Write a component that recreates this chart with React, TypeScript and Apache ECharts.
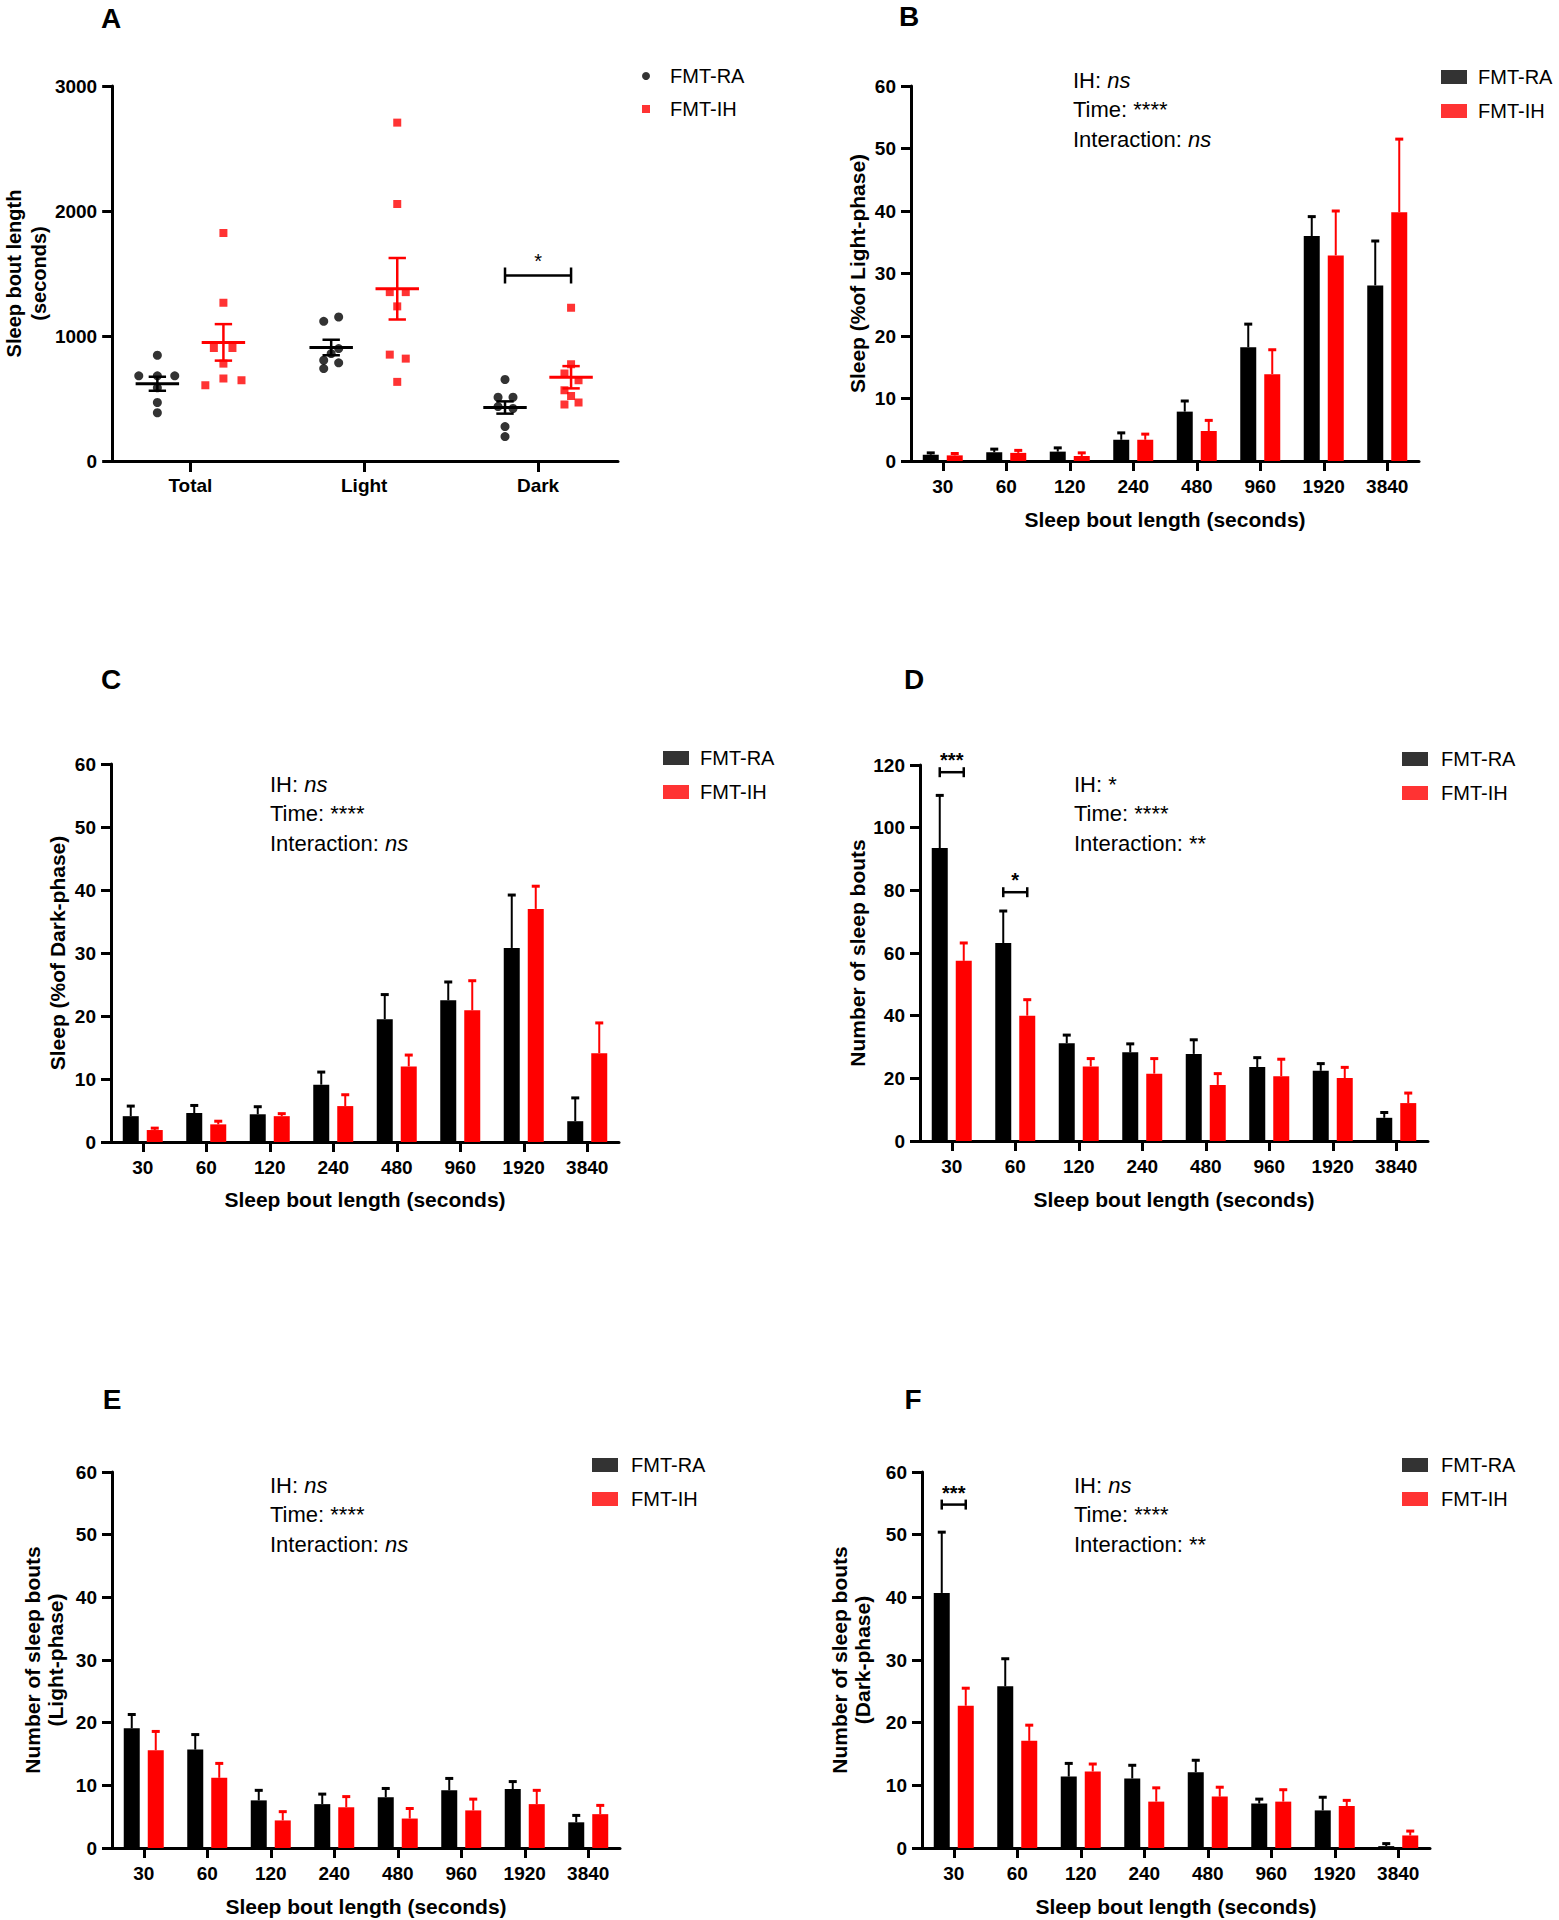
import { useEffect, useRef } from "react";
import * as echarts from "echarts";

// ------------------------- DATA -------------------------
const groupNames = ["FMT-RA", "FMT-IH"];
const phaseLabels = ["Total", "Light", "Dark"];
const boutLengths = ["30", "60", "120", "240", "480", "960", "1920", "3840"];

// Panel A: individual animals (sleep bout length, seconds) and horizontal jitter (category units)
const aTotalRA = [846, 681, 681, 681, 585, 468, 386];
const aTotalRAJitter = [0, -0.107, 0, 0.1, 0, 0, 0];
const aLightRA = [1152, 1117, 899, 859, 806, 785, 739];
const aLightRAJitter = [0.043, -0.043, 0.043, 0, -0.043, 0.043, -0.043];
const aDarkRA = [652, 510, 510, 435, 420, 275, 195];
const aDarkRAJitter = [0, -0.04, 0.046, -0.04, 0.046, 0, 0];
const aTotalIH = [1824, 1266, 904, 904, 779, 660, 646, 606];
const aTotalIHJitter = [0, 0, -0.055, 0.052, 0, 0, 0.104, -0.104];
const aLightIH = [2707, 2056, 1351, 1351, 1237, 851, 819, 633];
const aLightIHJitter = [0, 0, -0.043, 0.049, 0, -0.043, 0.049, 0];
const aDarkIH = [1226, 774, 700, 646, 566, 520, 468, 452];
const aDarkIHJitter = [0, 0, -0.038, 0.043, -0.038, 0, 0.043, -0.038];
const aMeanRA = [618, 908, 428];
const aSemRA = [56, 62, 49];
const aMeanIH = [949, 1378, 670];
const aSemIH = [146, 246, 89];
const aBracketCats = [2];
const aBracketY = [1484];
const aBracketLabels = ["*"];

// Panel B: sleep (% of light phase)
const bMeanRA = [1.0, 1.4, 1.5, 3.4, 7.9, 18.2, 36.0, 28.1];
const bSemRA = [0.3, 0.5, 0.6, 1.1, 1.7, 3.7, 3.1, 7.1];
const bMeanIH = [0.9, 1.3, 0.8, 3.4, 4.8, 13.9, 32.9, 39.8];
const bSemIH = [0.3, 0.4, 0.5, 0.9, 1.7, 3.9, 7.1, 11.7];

// Panel C: sleep (% of dark phase)
const cMeanRA = [4.1, 4.6, 4.4, 9.1, 19.5, 22.5, 30.8, 3.3];
const cSemRA = [1.6, 1.2, 1.2, 2.0, 3.9, 2.9, 8.4, 3.7];
const cMeanIH = [1.9, 2.8, 4.1, 5.7, 12.0, 20.9, 37.0, 14.1];
const cSemIH = [0.3, 0.5, 0.4, 1.8, 1.8, 4.7, 3.6, 4.8];

// Panel D: number of sleep bouts
const dMeanRA = [93.5, 63.2, 31.2, 28.3, 27.8, 23.6, 22.4, 7.4];
const dSemRA = [16.8, 10.2, 2.6, 2.7, 4.5, 3.0, 2.3, 1.7];
const dMeanIH = [57.5, 40.0, 23.8, 21.5, 17.9, 20.7, 20.1, 12.1];
const dSemIH = [5.7, 5.1, 2.5, 4.8, 3.6, 5.4, 3.4, 3.2];
const dBracketCats = [0, 1];
const dBracketY = [117.7, 79.4];
const dBracketLabels = ["***", "*"];

// Panel E: number of sleep bouts (light phase)
const eMeanRA = [19.1, 15.7, 7.6, 7.0, 8.1, 9.2, 9.4, 4.1];
const eSemRA = [2.2, 2.4, 1.6, 1.6, 1.4, 1.9, 1.2, 1.1];
const eMeanIH = [15.6, 11.2, 4.4, 6.5, 4.7, 6.0, 7.0, 5.4];
const eSemIH = [3.0, 2.3, 1.4, 1.7, 1.6, 1.8, 2.2, 1.4];

// Panel F: number of sleep bouts (dark phase)
const fMeanRA = [40.7, 25.8, 11.4, 11.1, 12.1, 7.1, 6.0, 0.3];
const fSemRA = [9.7, 4.4, 2.1, 2.1, 1.9, 0.7, 2.1, 0.4];
const fMeanIH = [22.7, 17.1, 12.2, 7.4, 8.2, 7.4, 6.7, 2.0];
const fSemIH = [2.8, 2.5, 1.2, 2.2, 1.5, 1.9, 0.9, 0.7];
const fBracketCats = [0];
const fBracketY = [54.8];
const fBracketLabels = ["***"];

// Stats annotations: [plain part, italic part]
const statsNs: [string, string][] = [["IH: ", "ns"], ["Time: ****", ""], ["Interaction: ", "ns"]];
const statsD: [string, string][] = [["IH: *", ""], ["Time: ****", ""], ["Interaction: **", ""]];
const statsF: [string, string][] = [["IH: ", "ns"], ["Time: ****", ""], ["Interaction: **", ""]];

// ------------------------- STYLE -------------------------
const FONT = "'Liberation Sans', Arial, Helvetica, sans-serif";
const BLACK = "#000000";
const RED = "#ff0000";
const BAR_OFFSET = 12; // px from category centre to each bar centre
const A_GROUP_OFFSET = 0.19; // category units

type Bracket = { cats: number[]; ys: number[]; labels: string[] } | null;

interface BarPanel {
  letter: string;
  letterPos: [number, number];
  grid: { left: number; top: number; width: number; height: number };
  yMax: number;
  yInterval: number;
  yName: string;
  yNameGap: number;
  yNameLH: number;
  xNameGap: number;
  meanRA: number[];
  semRA: number[];
  meanIH: number[];
  semIH: number[];
  stats: [string, string][];
  statsPos: [number, number];
  legend: { left: number; top: number; gap: number; pad: number };
  brackets: Bracket;
}

const barPanels: BarPanel[] = [
  {
    letter: "B", letterPos: [909, 16],
    grid: { left: 911, top: 86, width: 508, height: 375 },
    yMax: 60, yInterval: 10, yName: "Sleep (%of Light-phase)", yNameGap: 42, yNameLH: 23, xNameGap: 48,
    meanRA: bMeanRA, semRA: bSemRA, meanIH: bMeanIH, semIH: bSemIH,
    stats: statsNs, statsPos: [1073, 80],
    legend: { left: 1441, top: 67, gap: 14, pad: 6 },
    brackets: null,
  },
  {
    letter: "C", letterPos: [111, 679],
    grid: { left: 111, top: 764, width: 508, height: 378 },
    yMax: 60, yInterval: 10, yName: "Sleep (%of Dark-phase)", yNameGap: 42, yNameLH: 23, xNameGap: 47,
    meanRA: cMeanRA, semRA: cSemRA, meanIH: cMeanIH, semIH: cSemIH,
    stats: statsNs, statsPos: [270, 784],
    legend: { left: 663, top: 748, gap: 14, pad: 6 },
    brackets: null,
  },
  {
    letter: "D", letterPos: [914, 679],
    grid: { left: 920, top: 765, width: 508, height: 376 },
    yMax: 120, yInterval: 20, yName: "Number of sleep bouts", yNameGap: 51, yNameLH: 23, xNameGap: 48,
    meanRA: dMeanRA, semRA: dSemRA, meanIH: dMeanIH, semIH: dSemIH,
    stats: statsD, statsPos: [1074, 784],
    legend: { left: 1402, top: 749, gap: 14, pad: 8 },
    brackets: { cats: dBracketCats, ys: dBracketY, labels: dBracketLabels },
  },
  {
    letter: "E", letterPos: [112, 1399],
    grid: { left: 112, top: 1472, width: 508, height: 376 },
    yMax: 60, yInterval: 10, yName: "Number of sleep bouts\n(Light-phase)", yNameGap: 45, yNameLH: 23, xNameGap: 48,
    meanRA: eMeanRA, semRA: eSemRA, meanIH: eMeanIH, semIH: eSemIH,
    stats: statsNs, statsPos: [270, 1485],
    legend: { left: 592, top: 1455, gap: 14, pad: 8 },
    brackets: null,
  },
  {
    letter: "F", letterPos: [913, 1399],
    grid: { left: 922, top: 1472, width: 508, height: 376 },
    yMax: 60, yInterval: 10, yName: "Number of sleep bouts\n(Dark-phase)", yNameGap: 48, yNameLH: 23, xNameGap: 48,
    meanRA: fMeanRA, semRA: fSemRA, meanIH: fMeanIH, semIH: fSemIH,
    stats: statsF, statsPos: [1074, 1485],
    legend: { left: 1402, top: 1455, gap: 14, pad: 8 },
    brackets: { cats: fBracketCats, ys: fBracketY, labels: fBracketLabels },
  },
];

const axisLineStyle = { color: BLACK, width: 3 };
const tickLabelStyle = { fontFamily: FONT, fontWeight: "bold" as const, fontSize: 19, color: BLACK };
const axisNameStyle = (size: number, lh: number) => ({ fontFamily: FONT, fontWeight: "bold" as const, fontSize: size, color: BLACK, lineHeight: lh });

function makeYAxis(gridIndex: number, max: number, interval: number, name: string, nameGap: number, nameSize: number, lh: number) {
  return {
    gridIndex, type: "value", min: 0, max, interval,
    name, nameLocation: "middle", nameGap, nameRotate: 90,
    nameTextStyle: axisNameStyle(nameSize, lh),
    axisLine: { show: true, onZero: false, lineStyle: axisLineStyle },
    axisTick: { show: true, length: 10, lineStyle: axisLineStyle },
    axisLabel: { ...tickLabelStyle, margin: 15, formatter: (v: number) => String(v) },
    splitLine: { show: false },
  };
}

function errorBarRender(offset: number, color: string) {
  return (_params: any, api: any) => {
    const c = api.value(0);
    const m = api.value(1);
    const s = api.value(2);
    const p0 = api.coord([c, m]);
    const p1 = api.coord([c, m + s]);
    const x = p0[0] + offset;
    return {
      type: "group",
      children: [
        { type: "line", shape: { x1: x, y1: p0[1], x2: x, y2: p1[1] }, style: { stroke: color, lineWidth: 2 } },
        { type: "line", shape: { x1: x - 4, y1: p1[1], x2: x + 4, y2: p1[1] }, style: { stroke: color, lineWidth: 3 } },
      ],
    };
  };
}

function bracketRender(labels: string[], halfSpan: (api: any, c: number, y: number) => [number, number], tick: number, textDy: number, fontWeight: string) {
  return (params: any, api: any) => {
    const c = api.value(0);
    const y = api.value(1);
    const [x1, x2] = halfSpan(api, c, y);
    const py = api.coord([c, y])[1];
    const ls = { stroke: BLACK, lineWidth: 2.5 };
    return {
      type: "group",
      children: [
        { type: "line", shape: { x1, y1: py, x2, y2: py }, style: ls },
        { type: "line", shape: { x1, y1: py - tick, x2: x1, y2: py + tick }, style: ls },
        { type: "line", shape: { x1: x2, y1: py - tick, x2, y2: py + tick }, style: ls },
        {
          type: "text", x: (x1 + x2) / 2, y: py + textDy,
          style: { text: labels[params.dataIndex], fontFamily: FONT, fontSize: 20, fontWeight, fill: BLACK, align: "center", verticalAlign: "middle" },
        },
      ],
    };
  };
}

function meanSemRender(color: string) {
  return (_params: any, api: any) => {
    const c = api.value(0);
    const m = api.value(1);
    const s = api.value(2);
    const l = api.coord([c - 0.125, m]);
    const r = api.coord([c + 0.125, m]);
    const t = api.coord([c, m + s]);
    const b = api.coord([c, m - s]);
    const ct = api.coord([c - 0.05, m + s]);
    const ctr = api.coord([c + 0.05, m + s]);
    const cb = api.coord([c - 0.05, m - s]);
    const cbr = api.coord([c + 0.05, m - s]);
    const st = { stroke: color, lineWidth: 2.5 };
    return {
      type: "group",
      children: [
        { type: "line", shape: { x1: l[0], y1: l[1], x2: r[0], y2: r[1] }, style: { stroke: color, lineWidth: 3 } },
        { type: "line", shape: { x1: t[0], y1: t[1], x2: b[0], y2: b[1] }, style: st },
        { type: "line", shape: { x1: ct[0], y1: ct[1], x2: ctr[0], y2: ctr[1] }, style: st },
        { type: "line", shape: { x1: cb[0], y1: cb[1], x2: cbr[0], y2: cbr[1] }, style: st },
      ],
    };
  };
}

function buildOption() {
  const grids: any[] = [];
  const xAxes: any[] = [];
  const yAxes: any[] = [];
  const series: any[] = [];
  const legends: any[] = [];
  const graphics: any[] = [];

  const legendText = (pad: number) => ({ fontFamily: FONT, fontSize: 20, color: BLACK, padding: [0, 0, 0, pad] });
  const letter = (t: string, pos: [number, number]) => ({
    type: "text", x: pos[0], y: pos[1],
    style: { text: t, fontFamily: FONT, fontWeight: "bold", fontSize: 28, fill: BLACK, align: "center", verticalAlign: "middle" },
  });

  // ---------------- Panel A ----------------
  grids.push({ left: 112, top: 86, width: 506, height: 375, containLabel: false });
  xAxes.push({
    gridIndex: 0, type: "value", min: -0.45, max: 2.46,
    axisLine: { show: true, onZero: false, lineStyle: axisLineStyle },
    axisTick: { show: true, length: 11, lineStyle: axisLineStyle, customValues: [0, 1, 2] },
    axisLabel: { ...tickLabelStyle, margin: 15, customValues: [0, 1, 2], formatter: (v: number) => phaseLabels[Math.round(v)] ?? "" },
    splitLine: { show: false },
  });
  yAxes.push(makeYAxis(0, 3000, 1000, "Sleep bout length\n(seconds)", 54, 20, 25));

  const raSets = [[aTotalRA, aTotalRAJitter], [aLightRA, aLightRAJitter], [aDarkRA, aDarkRAJitter]];
  const ihSets = [[aTotalIH, aTotalIHJitter], [aLightIH, aLightIHJitter], [aDarkIH, aDarkIHJitter]];
  const raPts: number[][] = [];
  const ihPts: number[][] = [];
  raSets.forEach(([vals, jit], i) => vals.forEach((v, j) => raPts.push([i - A_GROUP_OFFSET + jit[j], v])));
  ihSets.forEach(([vals, jit], i) => vals.forEach((v, j) => ihPts.push([i + A_GROUP_OFFSET + jit[j], v])));

  series.push({
    name: groupNames[0], type: "scatter", xAxisIndex: 0, yAxisIndex: 0, data: raPts,
    symbol: "circle", symbolSize: 9, itemStyle: { color: BLACK }, z: 2,
  });
  series.push({
    name: groupNames[1], type: "scatter", xAxisIndex: 0, yAxisIndex: 0, data: ihPts,
    symbol: "rect", symbolSize: 8, itemStyle: { color: RED }, z: 2,
  });
  series.push({
    name: "meanRA", type: "custom", xAxisIndex: 0, yAxisIndex: 0, z: 3,
    data: aMeanRA.map((m, i) => [i - A_GROUP_OFFSET, m, aSemRA[i]]),
    encode: { x: 0, y: 1 }, renderItem: meanSemRender(BLACK),
  });
  series.push({
    name: "meanIH", type: "custom", xAxisIndex: 0, yAxisIndex: 0, z: 3,
    data: aMeanIH.map((m, i) => [i + A_GROUP_OFFSET, m, aSemIH[i]]),
    encode: { x: 0, y: 1 }, renderItem: meanSemRender(RED),
  });
  series.push({
    name: "bracketA", type: "custom", xAxisIndex: 0, yAxisIndex: 0, z: 3,
    data: aBracketCats.map((c, i) => [c, aBracketY[i]]),
    encode: { x: 0, y: 1 },
    renderItem: bracketRender(
      aBracketLabels,
      (api, c, y) => [api.coord([c - A_GROUP_OFFSET, y])[0], api.coord([c + A_GROUP_OFFSET, y])[0]],
      8, -15, "normal"
    ),
  });
  legends.push({
    left: 642, top: 66, padding: 0, orient: "vertical", itemWidth: 8, itemHeight: 8, itemGap: 13, selectedMode: false,
    textStyle: legendText(15),
    data: [{ name: groupNames[0], icon: "circle" }, { name: groupNames[1], icon: "rect" }],
  });
  graphics.push(letter("A", [111, 18]));

  // ---------------- Bar panels ----------------
  barPanels.forEach((p, k) => {
    const gi = k + 1;
    grids.push({ ...p.grid, containLabel: false });
    xAxes.push({
      gridIndex: gi, type: "category", data: boutLengths,
      axisLine: { show: true, lineStyle: axisLineStyle },
      axisTick: { show: true, alignWithLabel: true, length: 10, lineStyle: axisLineStyle, interval: 0 },
      axisLabel: { ...tickLabelStyle, margin: 16, interval: 0 },
      name: "Sleep bout length (seconds)", nameLocation: "middle", nameGap: p.xNameGap,
      nameTextStyle: axisNameStyle(21, 21),
      splitLine: { show: false },
    });
    yAxes.push(makeYAxis(gi, p.yMax, p.yInterval, p.yName, p.yNameGap, 21, p.yNameLH));

    series.push({
      name: groupNames[0], type: "bar", xAxisIndex: gi, yAxisIndex: gi, data: p.meanRA,
      barWidth: 16, barGap: "50%", itemStyle: { color: BLACK }, z: 2,
    });
    series.push({
      name: groupNames[1], type: "bar", xAxisIndex: gi, yAxisIndex: gi, data: p.meanIH,
      barWidth: 16, barGap: "50%", itemStyle: { color: RED }, z: 2,
    });
    series.push({
      name: "errRA" + gi, type: "custom", xAxisIndex: gi, yAxisIndex: gi, z: 1, clip: false,
      data: p.meanRA.map((m, i) => [i, m, p.semRA[i]]),
      encode: { x: 0, y: 1 }, renderItem: errorBarRender(-BAR_OFFSET, BLACK),
    });
    series.push({
      name: "errIH" + gi, type: "custom", xAxisIndex: gi, yAxisIndex: gi, z: 1, clip: false,
      data: p.meanIH.map((m, i) => [i, m, p.semIH[i]]),
      encode: { x: 0, y: 1 }, renderItem: errorBarRender(BAR_OFFSET, RED),
    });
    if (p.brackets) {
      const br = p.brackets;
      series.push({
        name: "bracket" + gi, type: "custom", xAxisIndex: gi, yAxisIndex: gi, z: 3, clip: false,
        data: br.cats.map((c, i) => [c, br.ys[i]]),
        encode: { x: 0, y: 1 },
        renderItem: bracketRender(
          br.labels,
          (api, c, y) => {
            const cx = api.coord([c, y])[0];
            return [cx - BAR_OFFSET, cx + BAR_OFFSET];
          },
          5, -12, "bold"
        ),
      });
    }
    legends.push({
      left: p.legend.left, top: p.legend.top, padding: 0, orient: "vertical", itemWidth: 26, itemHeight: 14,
      itemGap: p.legend.gap, selectedMode: false, icon: "rect",
      textStyle: legendText(p.legend.pad),
      data: groupNames,
    });
    graphics.push(letter(p.letter, p.letterPos));
    p.stats.forEach(([plain, ital], li) => {
      const text = ital ? `{n|${plain}}{i|${ital}}` : `{n|${plain}}`;
      graphics.push({
        type: "text", x: p.statsPos[0], y: p.statsPos[1] + li * 29.5,
        style: {
          text,
          rich: {
            n: { fontFamily: FONT, fontSize: 22, fill: BLACK, color: BLACK },
            i: { fontFamily: FONT, fontSize: 22, fontStyle: "italic", fill: BLACK, color: BLACK },
          },
          fill: BLACK, align: "left", verticalAlign: "middle",
        },
      });
    });
  });

  return {
    animation: false,
    backgroundColor: "#ffffff",
    textStyle: { fontFamily: FONT },
    grid: grids,
    xAxis: xAxes,
    yAxis: yAxes,
    legend: legends,
    series,
    graphic: graphics,
  };
}

export default function App() {
  const ref = useRef<HTMLDivElement>(null);
  useEffect(() => {
    if (!ref.current) return;
    const chart = echarts.init(ref.current, undefined, { renderer: "svg" });
    chart.setOption(buildOption() as any);
    return () => chart.dispose();
  }, []);
  return (
    <div
      ref={ref}
      style={{ position: "absolute", left: 0, top: 0, width: 1559, height: 1920, background: "#ffffff" }}
    />
  );
}
